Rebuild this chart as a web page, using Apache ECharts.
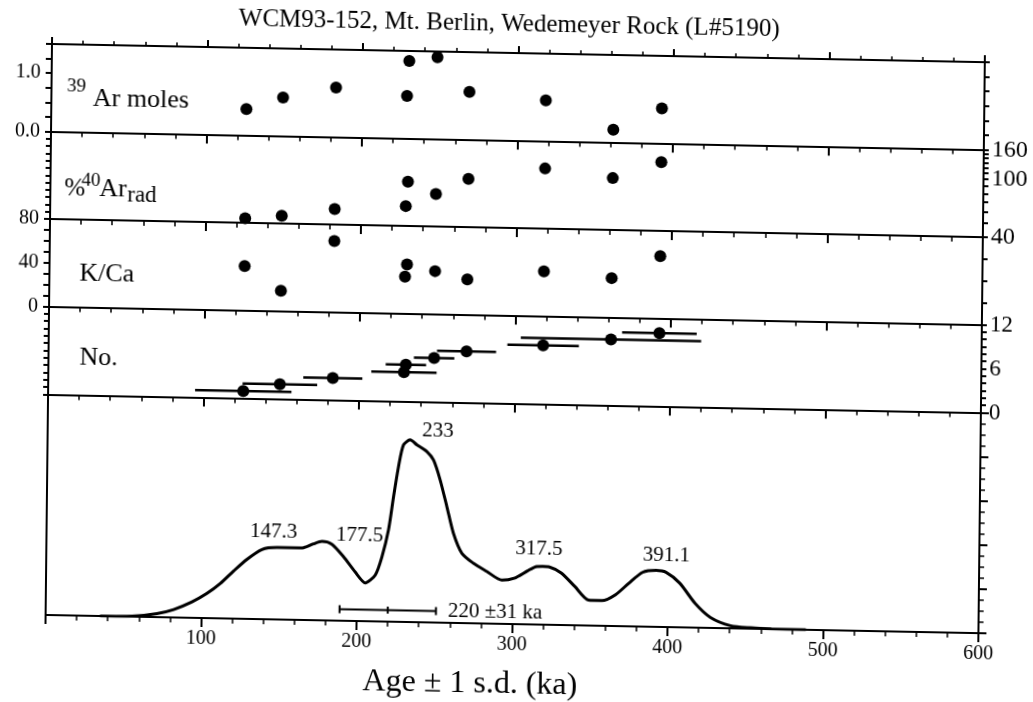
<!DOCTYPE html>
<html>
<head>
<meta charset="utf-8">
<script src="https://cdn.jsdelivr.net/npm/echarts@6/dist/echarts.min.js"></script>
<style>
  html, body { margin: 0; padding: 0; background: #fff; overflow: hidden; }
  /* the printed figure sits slightly skewed on the page */
  #chart { width: 1033px; height: 702px; background: #fff;
           transform-origin: 52px 44px; transform: matrix(1, 0.0195, -0.0112, 1, 0, 0); }
</style>
</head>
<body>
<div id="chart"></div>
<script>
// ---- single-crystal laser-fusion results, one entry per crystal ----
const crystalAge   = [125.5, 149.0, 183.0, 228.7, 229.9, 248.0, 268.8, 318.0, 361.6, 392.7];
const crystalAgeSd = [31, 24, 19, 21, 13, 13, 19, 23, 58, 24];
const ar39Moles    = [0.45, 0.66, 0.85, 0.73, 1.33, 1.40, 0.82, 0.70, 0.22, 0.60];
const pctAr40Rad   = [42.9, 45.3, 51.1, 54.8, 80.6, 66.9, 85.8, 103.7, 91.0, 119.0];
const kCaRatio     = [40.5, 18.6, 64.9, 33.5, 44.9, 39.2, 32.3, 41.0, 36.0, 57.0];
const crystalNo    = [1, 2, 3, 4, 5, 6, 7, 8, 9, 10];

// ---- cumulative probability curve ----
const probAge = [35, 55.6, 71.6, 82.3, 94.0, 103.6, 112.1, 120.6, 129.1, 138.7, 148.3, 159.0, 165.5, 171.8,
  177.2, 183.6, 191.2, 198.8, 205.3, 211.7, 215.9, 219.9, 222.9, 225.9, 228.9, 233.2, 237.6, 244.1, 248.4,
  252.8, 257.3, 261.7, 267.3, 274.8, 283.5, 293.2, 301.1, 309.5, 314.9, 319.3, 323.7, 331.3, 340.1, 348.9,
  357.6, 366.3, 374.9, 383.6, 392.3, 398.8, 407.6, 417.6, 427.5, 440.5, 453.6, 466.8, 489.0];
const probDensity = [0.0, 0.01, 0.08, 0.18, 0.36, 0.56, 0.79, 1.08, 1.35, 1.58, 1.63, 1.63, 1.64, 1.73,
  1.79, 1.73, 1.45, 1.11, 0.87, 1.05, 1.47, 2.08, 2.83, 3.52, 4.01, 4.13, 4.02, 3.87, 3.68,
  3.23, 2.63, 2.03, 1.58, 1.36, 1.18, 0.99, 1.04, 1.21, 1.31, 1.32, 1.31, 1.18, 0.88, 0.58,
  0.57, 0.71, 0.98, 1.23, 1.28, 1.24, 1.00, 0.55, 0.24, 0.06, 0.02, 0.005, 0.0];
const peakAges    = [147.3, 177.5, 233, 317.5, 391.1];
const peakHeights = [1.63, 1.79, 4.13, 1.31, 1.28];
const meanAge = 220;
const meanAgeSd = 31;

// ---- tick labels ----
const ageTickLabels  = [100, 200, 300, 400, 500, 600];
const ar39TickLabels = ['0.0', '1.0'];
const pctTickLabels  = [40, 100, 160];
const pctTicks       = [40, 50, 60, 70, 80, 90, 100, 110, 120, 130, 140, 150, 160];
const kCaTickLabels  = [0, 40, 80];
const noTickLabels   = [0, 6, 12];

// ---- layout & style ----
const SERIF = "'Liberation Serif', 'Times New Roman', Times, serif";
const PLOT_LEFT = 52, PLOT_WIDTH = 933;
const panels = [
  { top: 44, height: 87.5 },
  { top: 131.5, height: 87.5 },
  { top: 219, height: 87.5 },
  { top: 306.5, height: 88 },
  { top: 394.5, height: 220.5 }
];
const peakLabelOffsets = [[-2, -16], [37, -7], [28, -9], [-1, -18], [12, -15]];
const ink = '#000';
const axisLine = { show: true, onZero: false, lineStyle: { color: ink, width: 2 } };
const noSplit = { show: false };
const log10 = Math.log10;

function ageAxis(i, position, tickLen, minorLen, labels) {
  return {
    type: 'value', gridIndex: i, position: position, min: 0, max: 600, interval: 100,
    axisLine: axisLine,
    axisTick: { show: true, inside: false, length: tickLen, lineStyle: { color: ink, width: 2 } },
    minorTick: { show: true, splitNumber: 5, length: minorLen, lineStyle: { color: ink, width: 1.5 } },
    splitLine: noSplit, minorSplitLine: noSplit,
    axisLabel: labels ? {
      show: true, margin: 11, color: ink, fontFamily: SERIF, fontSize: 20,
      formatter: v => ageTickLabels.indexOf(v) >= 0 ? String(v) : ''
    } : { show: false }
  };
}

function sideAxis(i, position, cfg) {
  const ax = {
    type: 'value', gridIndex: i, position: position, min: cfg.min, max: cfg.max,
    axisLine: axisLine,
    axisTick: { show: cfg.ticks !== false, inside: false, length: cfg.tickLen || 6,
                lineStyle: { color: ink, width: 2 } },
    splitLine: noSplit,
    axisLabel: cfg.formatter ? {
      show: true, margin: position === 'left' ? 11 : 8, color: ink, fontFamily: SERIF,
      fontSize: cfg.fontSize || 20, formatter: cfg.formatter
    } : { show: false }
  };
  if (cfg.interval !== undefined) ax.interval = cfg.interval;
  if (cfg.minor) ax.minorTick = { show: true, splitNumber: cfg.minor, length: 5,
                                  lineStyle: { color: ink, width: 1.5 } };
  if (cfg.tickValues) ax.axisTick.customValues = cfg.tickValues;
  if (cfg.labelValues) ax.axisLabel.customValues = cfg.labelValues;
  return ax;
}

const dot = { symbol: 'circle', symbolSize: 12, itemStyle: { color: ink, opacity: 1 }, silent: true };

const option = {
  animation: false,
  backgroundColor: '#fff',
  grid: panels.map(p => ({ left: PLOT_LEFT, width: PLOT_WIDTH, top: p.top, height: p.height })),
  xAxis: [
    ageAxis(0, 'bottom', 9, 5, false),
    ageAxis(1, 'bottom', 9, 5, false),
    ageAxis(2, 'bottom', 9, 5, false),
    ageAxis(3, 'bottom', 9, 5, false),
    ageAxis(4, 'bottom', 9, 5, true),
    ageAxis(0, 'top', 7, 4, false)
  ],
  yAxis: [
    // 0,1: 39Ar moles
    sideAxis(0, 'left', { min: 0, max: 1.5, interval: 0.25, fontSize: 20,
      formatter: v => v === 0 ? ar39TickLabels[0] : (v === 1 ? ar39TickLabels[1] : '') }),
    sideAxis(0, 'right', { min: 0, max: 1.5, interval: 0.25, tickLen: 5 }),
    // 2,3: %40Ar rad (logarithmic)
    sideAxis(1, 'left', { min: 0, max: 12, interval: 1, tickLen: 5 }),
    sideAxis(1, 'right', { min: log10(pctTicks[0]), max: log10(pctTicks[pctTicks.length - 1]),
      tickLen: 5, fontSize: 24,
      tickValues: pctTicks.map(log10), labelValues: pctTickLabels.map(log10),
      formatter: v => String(Math.round(Math.pow(10, v))) }),
    // 4,5: K/Ca
    sideAxis(2, 'left', { min: 0, max: 80, interval: 10, fontSize: 20,
      formatter: v => kCaTickLabels.indexOf(v) >= 0 ? String(v) : '' }),
    sideAxis(2, 'right', { min: 0, max: 80, interval: 20, tickLen: 5 }),
    // 6,7: No.
    sideAxis(3, 'left', { min: 0, max: 12, interval: 1, tickLen: 5 }),
    sideAxis(3, 'right', { min: 0, max: 12, interval: 1, tickLen: 5, fontSize: 23,
      formatter: v => noTickLabels.indexOf(v) >= 0 ? String(v) : '' }),
    // 8,9: probability
    sideAxis(4, 'left', { min: 0, max: 5, interval: 1, ticks: false }),
    sideAxis(4, 'right', { min: 0, max: 5, interval: 1, tickLen: 8, minor: 4 })
  ],
  series: [
    Object.assign({ type: 'scatter', xAxisIndex: 0, yAxisIndex: 0,
      data: crystalAge.map((a, i) => [a, ar39Moles[i]]) }, dot),
    Object.assign({ type: 'scatter', xAxisIndex: 1, yAxisIndex: 3,
      data: crystalAge.map((a, i) => [a, log10(pctAr40Rad[i])]) }, dot),
    Object.assign({ type: 'scatter', xAxisIndex: 2, yAxisIndex: 4,
      data: crystalAge.map((a, i) => [a, kCaRatio[i]]) }, dot),
    {
      type: 'custom', xAxisIndex: 3, yAxisIndex: 7, silent: true,
      data: crystalAge.map((a, i) => [a, crystalAgeSd[i], crystalNo[i]]),
      encode: { x: 0, y: 2 },
      renderItem: (params, api) => {
        const a = api.value(0), s = api.value(1), n = api.value(2);
        const p1 = api.coord([a - s, n]), p2 = api.coord([a + s, n]);
        return { type: 'line', shape: { x1: p1[0], y1: p1[1], x2: p2[0], y2: p2[1] },
                 style: { stroke: ink, lineWidth: 2.5 } };
      }
    },
    Object.assign({ type: 'scatter', xAxisIndex: 3, yAxisIndex: 7,
      data: crystalAge.map((a, i) => [a, crystalNo[i]]) }, dot),
    {
      type: 'line', xAxisIndex: 4, yAxisIndex: 9, silent: true,
      data: probAge.map((a, i) => [a, probDensity[i]]),
      showSymbol: false, smooth: 0.25,
      lineStyle: { color: ink, width: 3, opacity: 1 }
    },
    {
      type: 'scatter', xAxisIndex: 4, yAxisIndex: 9, silent: true, symbolSize: 0,
      itemStyle: { opacity: 1 },
      data: peakAges.map((a, i) => ({
        value: [a, peakHeights[i]],
        label: { offset: peakLabelOffsets[i] }
      })),
      label: { show: true, position: 'inside', color: ink, opacity: 1, fontFamily: SERIF, fontSize: 21,
               formatter: p => String(p.value[0]) }
    },
    {
      type: 'custom', xAxisIndex: 4, yAxisIndex: 9, silent: true,
      data: [[meanAge, meanAgeSd]],
      renderItem: (params, api) => {
        const m = api.value(0), s = api.value(1);
        const l = api.coord([m - s, 0]), c = api.coord([m, 0]), r = api.coord([m + s, 0]);
        const y = c[1] - 11.5;
        const seg = (x1, y1, x2, y2) => ({ type: 'line', shape: { x1, y1, x2, y2 },
                                            style: { stroke: ink, lineWidth: 2 } });
        return { type: 'group', children: [
          seg(l[0], y, r[0], y),
          seg(l[0], y - 4, l[0], y + 4),
          seg(r[0], y - 4, r[0], y + 4),
          seg(c[0], y - 3.5, c[0], y + 3.5),
          { type: 'text', x: r[0] + 12, y: y,
            style: { text: m + ' \u00b1' + s + ' ka', fill: ink, font: '21px ' + SERIF,
                     align: 'left', textAlign: 'left', verticalAlign: 'middle', textVerticalAlign: 'middle' } }
        ] };
      }
    }
  ],
  graphic: [
    { type: 'text', x: 509, y: 15, silent: true,
      style: { text: 'WCM93-152, Mt. Berlin, Wedemeyer Rock (L#5190)', fill: ink, font: '25px ' + SERIF,
               align: 'center', textAlign: 'center', verticalAlign: 'middle', textVerticalAlign: 'middle' } },
    { type: 'text', x: 477, y: 676, silent: true,
      style: { text: 'Age \u00b1 1 s.d. (ka)', fill: ink, font: '32px ' + SERIF,
               align: 'center', textAlign: 'center', verticalAlign: 'middle', textVerticalAlign: 'middle' } },
    // panel captions
    { type: 'text', x: 67.5, y: 86, silent: true,
      style: { text: '39', fill: ink, font: '19px ' + SERIF, verticalAlign: 'middle', textVerticalAlign: 'middle' } },
    { type: 'text', x: 93.5, y: 98, silent: true,
      style: { text: 'Ar moles', fill: ink, font: '26px ' + SERIF, verticalAlign: 'middle', textVerticalAlign: 'middle' } },
    { type: 'text', x: 66, y: 188, silent: true,
      style: { text: '%', fill: ink, font: '25px ' + SERIF, verticalAlign: 'middle', textVerticalAlign: 'middle' } },
    { type: 'text', x: 83, y: 180, silent: true,
      style: { text: '40', fill: ink, font: '19px ' + SERIF, verticalAlign: 'middle', textVerticalAlign: 'middle' } },
    { type: 'text', x: 101, y: 188, silent: true,
      style: { text: 'Ar', fill: ink, font: '26px ' + SERIF, verticalAlign: 'middle', textVerticalAlign: 'middle' } },
    { type: 'text', x: 129, y: 194, silent: true,
      style: { text: 'rad', fill: ink, font: '23px ' + SERIF, verticalAlign: 'middle', textVerticalAlign: 'middle' } },
    { type: 'text', x: 82, y: 273.5, silent: true,
      style: { text: 'K/Ca', fill: ink, font: '26px ' + SERIF, verticalAlign: 'middle', textVerticalAlign: 'middle' } },
    { type: 'text', x: 83, y: 357.5, silent: true,
      style: { text: 'No.', fill: ink, font: '26px ' + SERIF, verticalAlign: 'middle', textVerticalAlign: 'middle' } }
  ]
};

const chart = echarts.init(document.getElementById('chart'), null, { renderer: 'canvas' });
chart.setOption(option);
</script>
</body>
</html>
